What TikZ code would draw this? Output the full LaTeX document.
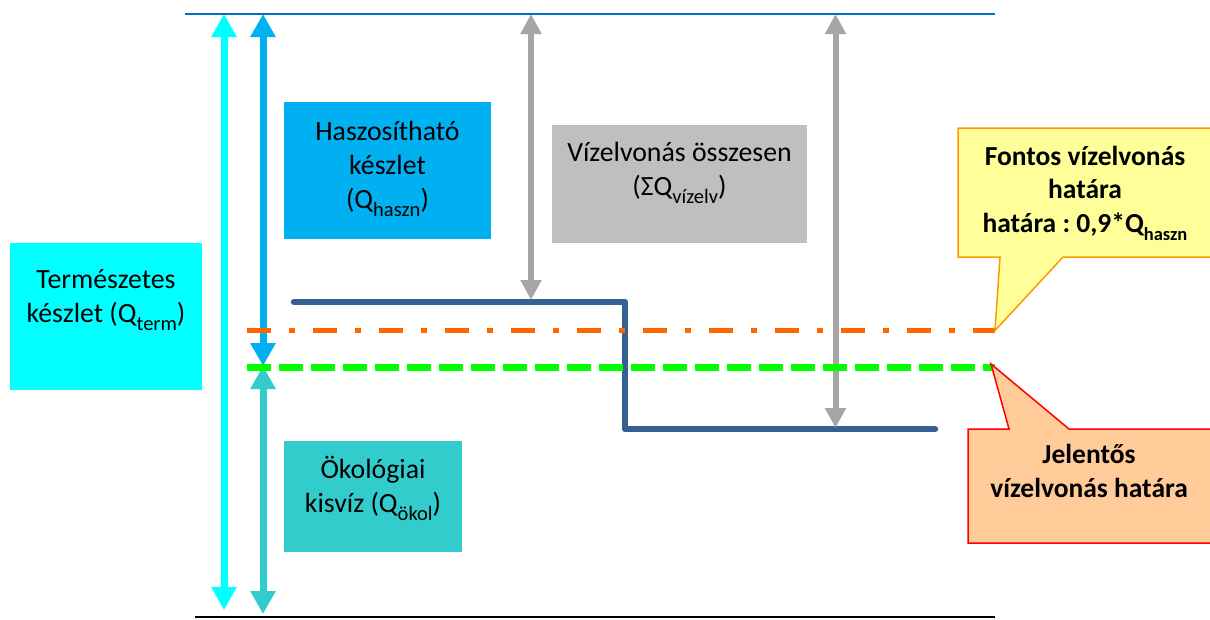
\documentclass[tikz,border=0pt]{standalone}
\usepackage{fontspec}
\setmainfont{Carlito}
\usetikzlibrary{arrows.meta}
\definecolor{cyanC}{RGB}{0,255,255}
\definecolor{hasznC}{RGB}{0,176,240}
\definecolor{tealC}{RGB}{51,204,204}
\definecolor{grayBox}{RGB}{191,191,191}
\definecolor{grayArr}{RGB}{166,166,166}
\definecolor{stepC}{RGB}{54,96,146}
\definecolor{orangeC}{RGB}{255,102,0}
\definecolor{greenC}{RGB}{0,255,0}
\definecolor{topC}{RGB}{0,112,192}
\definecolor{yellowF}{RGB}{255,255,153}
\definecolor{yellowB}{RGB}{255,153,0}
\definecolor{peachF}{RGB}{255,204,153}
\newcommand\lowsub[1]{\raisebox{-8pt}{\fontsize{20.5}{20.5}\selectfont #1}}
\newcommand\lowsubb[1]{\raisebox{-8pt}{\fontsize{18.5}{18.5}\selectfont #1}}
\frenchspacing
\begin{document}
\begin{tikzpicture}[x=1pt,y=-1pt,
  box/.style={draw=none,inner sep=0pt,outer sep=0pt},
  txt/.style={align=center,inner sep=0pt,font=\fontsize{27.8}{34}\selectfont},
  btxt/.style={align=center,inner sep=0pt,font=\fontsize{27.5}{33.5}\selectfont\bfseries},
  bigarrs/.style={line width=7pt,{Triangle[width=24pt,length=23pt]}-{Triangle[width=24pt,length=23pt]}},
  grayarr/.style={grayArr,line width=6pt,{Triangle[width=20pt,length=20pt]}-{Triangle[width=20pt,length=20pt]}}
]
\useasboundingbox (0,0) rectangle (1210,619);

% boxes
\node[box,fill=cyanC,minimum width=192pt,minimum height=147pt] (term) at (106,316.5) {};
\node[box,fill=hasznC,minimum width=207pt,minimum height=137pt] (haszn) at (387.5,170.5) {};
\node[box,fill=grayBox,minimum width=255pt,minimum height=118pt] (vizelv) at (679.5,184) {};
\node[box,fill=tealC,minimum width=178pt,minimum height=111pt] (okol) at (373,496.5) {};

\node[txt,anchor=base] (termT) at (106,322) {Természetes\\készlet (Q\lowsub{term})};
\node[txt,anchor=base] (hasznT) at (387.5,208) {Haszosítható\\készlet\\(Q\lowsub{haszn})};
\node[txt,anchor=base] (vizelvT) at (679.5,195) {Vízelvonás összesen\\(ΣQ\lowsub{vízelv})};
\node[txt,anchor=base] (okolT) at (373,512) {Ökológiai\\kisvíz (Q\lowsub{ökol})};

% frame lines
\coordinate (topL) at (185,14);
\coordinate (topR) at (995,14);
\coordinate (botL) at (195,617);
\coordinate (botR) at (995,617);
\draw[topC,line width=2pt] (topL) -- (topR);
\draw[black,line width=2.5pt] (botL) -- (botR);

% step line
\coordinate (s1) at (294,302);
\coordinate (s2) at (625,302);
\coordinate (s3) at (625,429);
\coordinate (s4) at (935,429);
\draw[stepC,line width=6.5pt,line cap=round,line join=round] (s1) -- (s2) -- (s3) -- (s4);

% arrows
\coordinate (tA) at (224,14);
\coordinate (bA) at (224,610);
\draw[cyanC,bigarrs] (tA) -- (bA);
\coordinate (tB) at (263,14);
\coordinate (mB) at (263,366);
\coordinate (bB) at (263,614);
\draw[hasznC,bigarrs] (tB) -- (mB);
\draw[tealC,bigarrs] (mB) -- (bB);
\coordinate (tG1) at (531,14);
\coordinate (bG1) at (531,300);
\draw[grayarr] (tG1) -- (bG1);
\coordinate (tG2) at (835.5,14);
\coordinate (bG2) at (835.5,428);
\draw[grayarr] (tG2) -- (bG2);

% limit lines
\coordinate (oL) at (247,330.5);
\coordinate (ytip) at (995,330.5);
\draw[orangeC,line width=5.5pt,dash pattern=on 24pt off 18pt on 6pt off 18pt] (oL) -- (ytip);
\coordinate (gL) at (247,367);
\coordinate (rtip) at (995,367);
\draw[greenC,line width=7pt,dash pattern=on 24pt off 8pt] (gL) -- (rtip);

% callouts
\draw[yellowB,fill=yellowF,line width=1.5pt,line join=miter]
  (958,128) -- (1215,128) -- (1215,257) -- (1063,257) -- (ytip) -- (1000,257) -- (958,257) -- cycle;
\node[btxt,anchor=base] (fontosT) at (1085,232) {Fontos vízelvonás\\határa\\határa : 0,9*Q\lowsubb{haszn}};

\draw[red,fill=peachF,line width=1.5pt,line join=miter]
  (968,543) -- (968,429) -- (1009,429) -- (991,364) -- (1069,429) -- (1215,429) -- (1215,543) -- cycle;
\node[btxt,anchor=base] (jelT) at (1089,497) {Jelentős\\vízelvonás határa};
\end{tikzpicture}
\end{document}
